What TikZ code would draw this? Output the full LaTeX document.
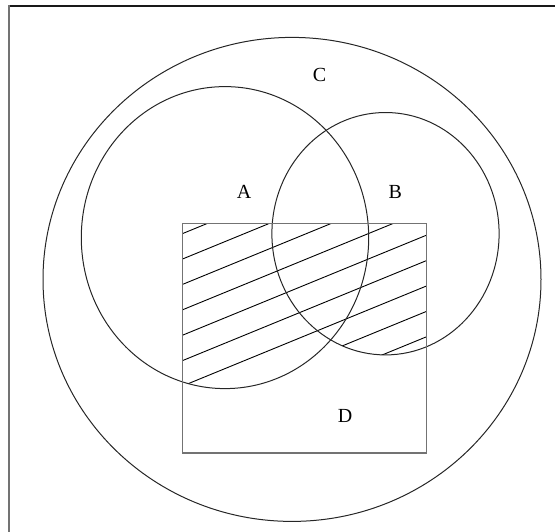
\documentclass[tikz,border=0pt]{standalone}
\usepackage{fontspec}
\setmainfont{Liberation Serif}
\begin{document}
\begin{tikzpicture}[x=1pt,y=-1pt,
  setline/.style={draw=black!85,line width=1pt},
  boxline/.style={draw=black!55,line width=1.4pt},
  hatchline/.style={draw=black,line width=0.9pt},
  setlabel/.style={font=\fontsize{20}{22}\selectfont,inner sep=0pt}]
\useasboundingbox (0,0) rectangle (555,531);
% frame (top and left only)
\draw[black!90,line width=2pt] (9,6) -- (556,6);
\draw[black!55,line width=2pt] (9,5) -- (9,532);
% centres
\coordinate (cC) at (292,279.4);
\coordinate (cA) at (225,237.6);
\coordinate (cB) at (385.5,233.7);
\coordinate (dNW) at (182.5,223.5);
\coordinate (dSE) at (426.5,453);
% hatching of (A union B) intersect D
\begin{scope}
  \clip (dNW) rectangle (dSE);
  \begin{scope}
    \clip (cA) ellipse [x radius=143.7pt, y radius=151pt]
          (cB) ellipse [x radius=113.6pt, y radius=121.2pt];
    \foreach \k in {0,...,6}{
      \pgfmathsetmacro{\c}{233+25.4*\k}
      \draw[hatchline] (140,{\c+0.41*44}) -- (470,{\c-0.41*286});
    }
  \end{scope}
  \begin{scope}
    \clip (cB) ellipse [x radius=113.6pt, y radius=121.2pt];
    \foreach \k in {7,8}{
      \pgfmathsetmacro{\c}{233+25.4*\k}
      \draw[hatchline] (140,{\c+0.41*44}) -- (470,{\c-0.41*286});
    }
  \end{scope}
\end{scope}
% sets
\draw[setline] (cC) ellipse [x radius=249pt, y radius=242pt];
\draw[setline] (cA) ellipse [x radius=143.7pt, y radius=151pt];
\draw[setline] (cB) ellipse [x radius=113.6pt, y radius=121.2pt];
\draw[boxline] (dNW) rectangle (dSE);
% labels
\node[setlabel] (lC) at (319.6,75.2) {C};
\node[setlabel] (lA) at (244,192.3) {A};
\node[setlabel] (lB) at (395.4,192.3) {B};
\node[setlabel] (lD) at (345,415.9) {D};
\end{tikzpicture}
\end{document}
